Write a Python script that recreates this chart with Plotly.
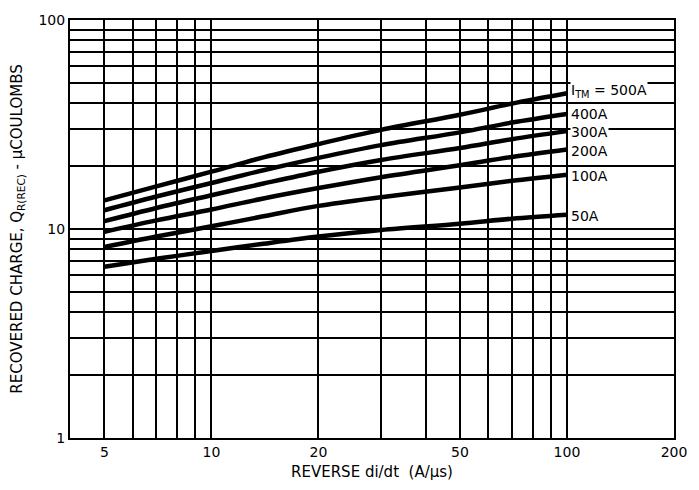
import numpy as np
import plotly.graph_objects as go

# Data
didt = [5, 7, 10, 14, 20, 30, 50, 70, 100]
currents = ["500A", "400A", "300A", "200A", "100A", "50A"]
q_500 = [13.7, 16.0, 18.8, 22.0, 25.5, 29.8, 35.2, 39.8, 44.6]
q_400 = [12.3, 14.3, 16.6, 19.1, 21.9, 25.2, 29.0, 32.3, 35.5]
q_300 = [10.9, 12.6, 14.5, 16.5, 18.8, 21.4, 24.4, 26.9, 29.4]
q_200 = [9.7, 11.0, 12.4, 14.0, 15.7, 17.7, 20.2, 22.1, 24.0]
q_100 = [8.2, 9.2, 10.3, 11.5, 12.9, 14.2, 15.8, 17.0, 18.2]
q_50 = [6.6, 7.2, 7.85, 8.5, 9.2, 9.9, 10.6, 11.2, 11.7]
series = [q_500, q_400, q_300, q_200, q_100, q_50]
labels = ["I<sub>TM</sub> = 500A", "400A", "300A", "200A", "100A", "50A"]
label_y = [45.5, 35.6, 29.0, 23.5, 18.0, 11.5]

x_ticks = [5, 10, 20, 50, 100, 200]
x_grid = [6, 7, 8, 9, 30, 40, 60, 70, 80, 90]
y_ticks = [1, 10, 100]
y_grid = [2, 3, 4, 5, 6, 7, 8, 9, 20, 30, 40, 50, 60, 70, 80, 90]

FONT = "DejaVu Sans"
GRID_W = 1.5

fig = go.Figure()
for name, ys in zip(currents, series):
    fig.add_trace(go.Scatter(x=didt, y=ys, mode="lines", name=name,
                             line=dict(color="black", width=4.5, shape="spline"),
                             showlegend=False, hoverinfo="skip"))

for lab, yv in zip(labels, label_y):
    fig.add_annotation(x=np.log10(100), y=np.log10(yv), text=lab, showarrow=False,
                       xanchor="left", yanchor="middle", xshift=3, borderpad=0,
                       bgcolor="white", font=dict(family=FONT, size=14, color="black"))

fig.update_xaxes(type="log", range=[np.log10(4), np.log10(200)],
                 tickmode="array", tickvals=x_ticks,
                 showgrid=True, gridcolor="black", gridwidth=GRID_W,
                 minor=dict(tickmode="array", tickvals=x_grid, showgrid=True,
                            gridcolor="black", gridwidth=GRID_W, ticks=""),
                 showline=True, linecolor="black", linewidth=2, mirror=True,
                 ticks="", zeroline=False,
                 tickfont=dict(family=FONT, size=14, color="black"),
                 title=dict(text="REVERSE di/dt  (A/μs)", standoff=8,
                            font=dict(family=FONT, size=15, color="black")))
fig.update_yaxes(type="log", range=[0, 2],
                 tickmode="array", tickvals=y_ticks,
                 showgrid=True, gridcolor="black", gridwidth=GRID_W,
                 minor=dict(tickmode="array", tickvals=y_grid, showgrid=True,
                            gridcolor="black", gridwidth=GRID_W, ticks=""),
                 showline=True, linecolor="black", linewidth=2, mirror=True,
                 ticks="", zeroline=False,
                 tickfont=dict(family=FONT, size=14, color="black"),
                 title=dict(text="RECOVERED CHARGE, Q<sub>R(REC)</sub> - μCOULOMBS", standoff=12,
                            font=dict(family=FONT, size=15, color="black")))

fig.update_layout(width=699, height=490, margin=dict(l=70, r=17, t=14, b=46),
                  plot_bgcolor="white", paper_bgcolor="white")

fig.write_html("out.html")
